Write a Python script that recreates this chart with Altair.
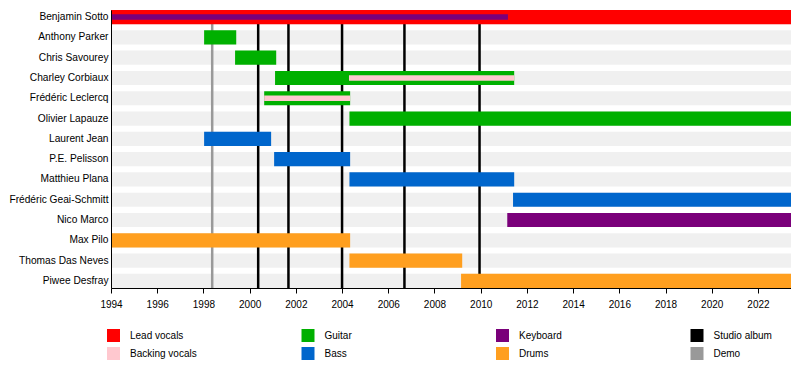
import altair as alt
import pandas as pd

members = ["Benjamin Sotto", "Anthony Parker", "Chris Savourey", "Charley Corbiaux",
           "Frédéric Leclercq", "Olivier Lapauze", "Laurent Jean", "P.E. Pelisson",
           "Matthieu Plana", "Frédéric Geai-Schmitt", "Nico Marco", "Max Pilo",
           "Thomas Das Neves", "Piwee Desfray"]

START = 1994.0
END = 2023.43

# main membership bars
bar_member = ["Benjamin Sotto", "Anthony Parker", "Chris Savourey", "Charley Corbiaux",
              "Frédéric Leclercq", "Olivier Lapauze", "Laurent Jean", "P.E. Pelisson",
              "Matthieu Plana", "Frédéric Geai-Schmitt", "Nico Marco", "Max Pilo",
              "Thomas Das Neves", "Piwee Desfray"]
bar_role = ["Lead vocals", "Guitar", "Guitar", "Guitar", "Guitar", "Guitar", "Bass", "Bass",
            "Bass", "Bass", "Keyboard", "Drums", "Drums", "Drums"]
bar_start = [1994.0, 1998.03, 1999.37, 2001.1, 2000.63, 2004.32, 1998.03, 2001.06,
             2004.32, 2011.4, 2011.15, 1994.0, 2004.32, 2009.15]
bar_end = [END, 1999.42, 2001.15, 2011.45, 2004.35, END, 2000.93, 2004.35,
           2011.45, END, END, 2004.35, 2009.2, END]

# secondary (thin) bars
inner_member = ["Benjamin Sotto", "Charley Corbiaux", "Frédéric Leclercq"]
inner_role = ["Keyboard", "Backing vocals", "Backing vocals"]
inner_start = [1994.0, 2004.3, 2000.63]
inner_end = [2011.18, 2011.45, 2004.35]

# releases
event_year = [1998.38, 2000.37, 2001.68, 2004.0, 2006.7, 2009.95]
event_type = ["Demo", "Studio album", "Studio album", "Studio album", "Studio album", "Studio album"]

roles = ["Lead vocals", "Backing vocals", "Guitar", "Bass",
         "Keyboard", "Drums", "Studio album", "Demo"]
role_colors = ["#ff0000", "#ffc8cf", "#00b000", "#0066cc",
               "#7a007a", "#ff9f1f", "#000000", "#999999"]

tick_years = list(range(1994, 2023, 2))

bars = pd.DataFrame({"member": bar_member, "role": bar_role, "start": bar_start, "end": bar_end})
inner = pd.DataFrame({"member": inner_member, "role": inner_role, "start": inner_start, "end": inner_end})
events = pd.DataFrame({"year": event_year, "role": event_type})
stripes = pd.DataFrame({"member": members, "start": [START] * len(members), "end": [END] * len(members)})

xscale = alt.Scale(domain=[START, END], nice=False, zero=False)
yscale = alt.Scale(domain=members, paddingInner=0.3, paddingOuter=0)
cscale = alt.Scale(domain=roles, range=role_colors)

xenc = alt.X("start:Q", scale=xscale,
             axis=alt.Axis(values=tick_years, format="d", title=None, grid=False,
                           domainColor="black", tickColor="black", tickSize=5,
                           labelFontSize=10, labelPadding=6, labelColor="black",
                           labelFont="Liberation Sans", labelFlush=False, zindex=1))
yenc = alt.Y("member:N", scale=yscale, sort=members,
             axis=alt.Axis(title=None, ticks=False, domainColor="black", labelFontSize=10.2,
                           labelPadding=3, labelColor="black", labelFont="Liberation Sans",
                           labelLimit=200, zindex=1))

color_enc = alt.Color("role:N", scale=cscale,
                      legend=alt.Legend(title=None, orient="none", legendX=-4, legendY=319,
                                        columns=4, gridAlign="all", columnPadding=104.5,
                                        rowPadding=5, symbolType="square", symbolSize=169,
                                        symbolStrokeWidth=0, symbolOpacity=1,
                                        labelFontSize=10, labelFont="Liberation Sans",
                                        labelColor="black", labelOffset=10, padding=0))

stripe_layer = alt.Chart(stripes).mark_bar(color="#f0f0f0").encode(
    x=xenc, x2="end:Q", y=yenc)

rule_layer = alt.Chart(events).mark_rule(strokeWidth=2.5).encode(
    x=alt.X("year:Q", scale=xscale), color=color_enc)

bar_layer = alt.Chart(bars).mark_bar().encode(
    x=alt.X("start:Q", scale=xscale), x2="end:Q", y=alt.Y("member:N", scale=yscale, sort=members),
    color=color_enc)

inner_layer = alt.Chart(inner).mark_rule(strokeWidth=5.5).encode(
    x=alt.X("start:Q", scale=xscale), x2="end:Q", y=alt.Y("member:N", scale=yscale, sort=members),
    color=color_enc)

chart = alt.layer(stripe_layer, rule_layer, bar_layer, inner_layer).properties(
    width=680, height=278, padding=0
).configure_view(stroke=None).configure(background="white")

chart.save("out.html", embed_options={"renderer": "svg", "actions": False})
